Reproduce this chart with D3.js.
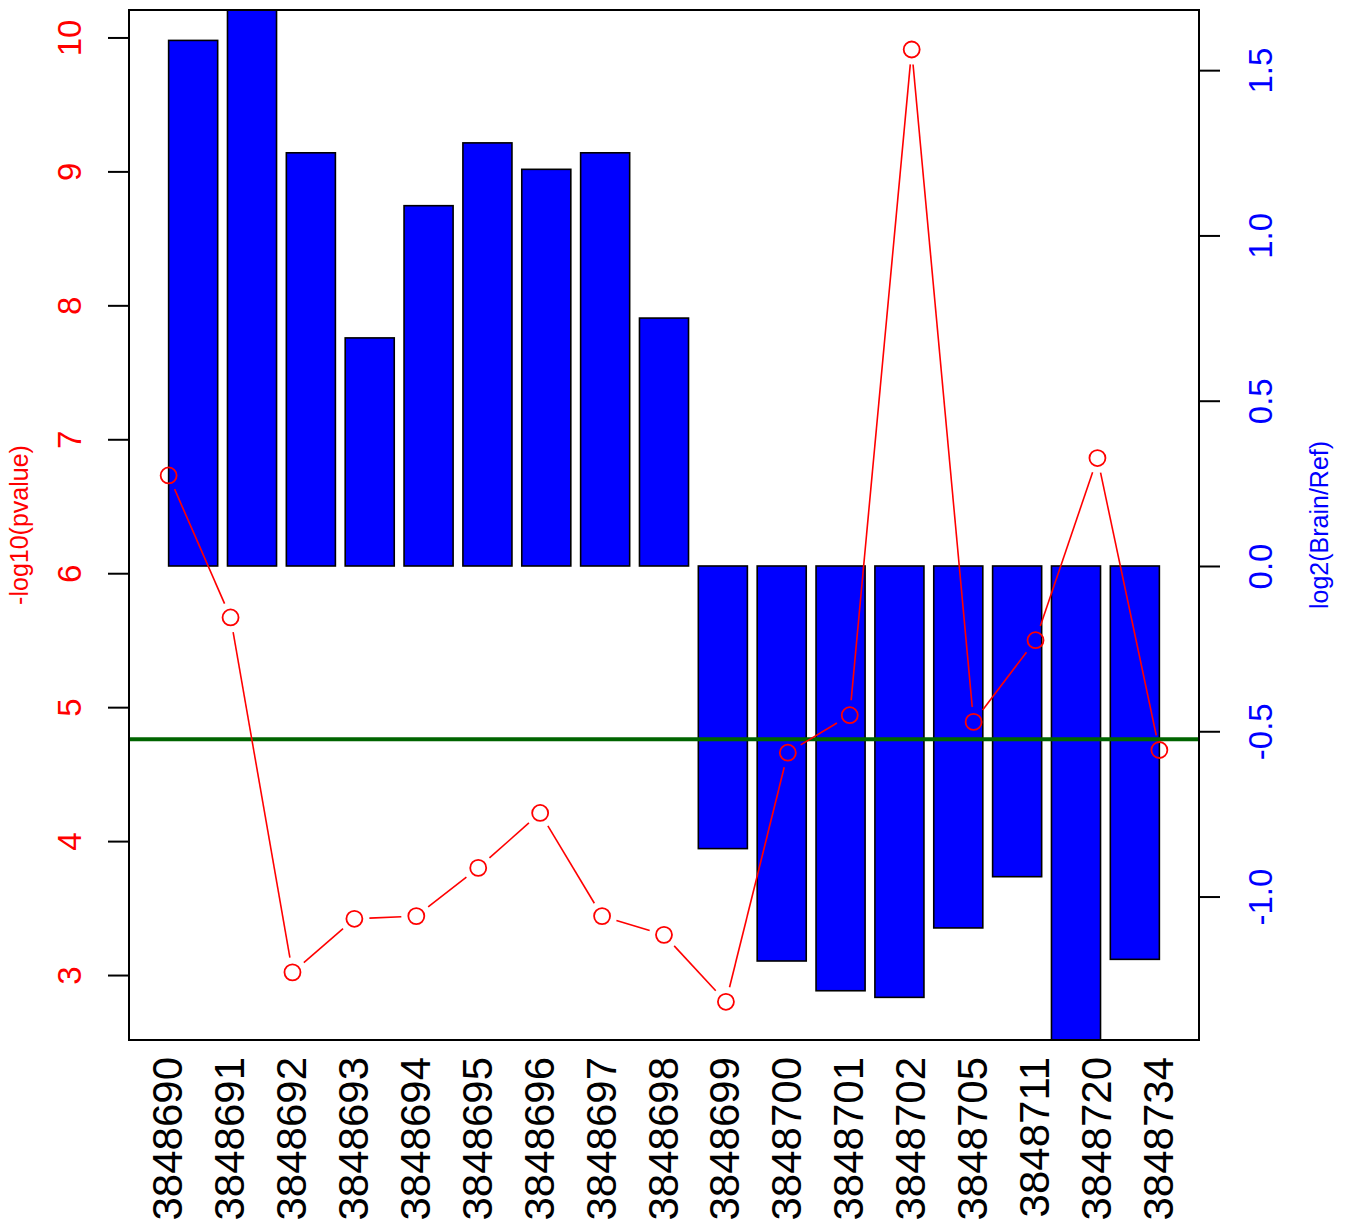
<!DOCTYPE html>
<html>
<head>
<meta charset="utf-8">
<script src="https://cdn.jsdelivr.net/npm/d3@7"></script>
<style>
  html, body { margin: 0; padding: 0; background: #fff; }
  svg { display: block; font-family: "Liberation Sans", Arial, sans-serif; }
</style>
</head>
<body>
<svg id="chart" width="1347" height="1226"></svg>
<script>
// ---- data ----
const probes = ["3848690","3848691","3848692","3848693","3848694","3848695","3848696","3848697","3848698","3848699","3848700","3848701","3848702","3848705","3848711","3848720","3848734"];
const log2Ratio = [1.59, 1.75, 1.25, 0.69, 1.09, 1.28, 1.20, 1.25, 0.75, -0.855, -1.195, -1.285, -1.305, -1.095, -0.94, -1.55, -1.19];
const negLog10P = [6.73, 5.67, 3.02, 3.42, 3.44, 3.80, 4.21, 3.44, 3.30, 2.80, 4.66, 4.94, 9.91, 4.89, 5.50, 6.86, 4.68];
const threshold = [4.76];
const leftTicks = [3, 4, 5, 6, 7, 8, 9, 10];
const rightTicks = [-1.0, -0.5, 0.0, 0.5, 1.0, 1.5];

// ---- layout ----
const L = 129, R = 1199, T = 10, B = 1040;
const svg = d3.select("#chart");

// point x scale (R plot: index with 4% expansion)
const n = probes.length;
const xP = d3.scaleLinear().domain([1 - 0.04 * (n - 1), n + 0.04 * (n - 1)]).range([L, R]);
// barplot x scale (space 0.2, width 1)
const barLeft = i => 0.2 + i * 1.2;
const bxMin = 0.2, bxMax = barLeft(n - 1) + 1;
const bpad = 0.04 * (bxMax - bxMin);
const xB = d3.scaleLinear().domain([bxMin - bpad, bxMax + bpad]).range([L, R]);

const yL = d3.scaleLinear().domain([2.515, 10.205]).range([B, T]);
const yR = d3.scaleLinear().domain([-1.434, 1.682]).range([B, T]);

svg.append("defs").append("clipPath").attr("id", "plotclip")
  .append("rect").attr("x", L).attr("y", T).attr("width", R - L).attr("height", B - T);

const plot = svg.append("g").attr("clip-path", "url(#plotclip)");

// bars
plot.selectAll("rect.bar").data(log2Ratio).join("rect")
  .attr("class", "bar")
  .attr("x", (d, i) => xB(barLeft(i)))
  .attr("width", (d, i) => xB(barLeft(i) + 1) - xB(barLeft(i)))
  .attr("y", d => yR(Math.max(0, d)))
  .attr("height", d => Math.abs(yR(d) - yR(0)))
  .attr("fill", "#0000ff")
  .attr("stroke", "#000")
  .attr("stroke-width", 1.6);

// threshold line
plot.selectAll("line.thr").data(threshold).join("line")
  .attr("class", "thr")
  .attr("x1", L).attr("x2", R)
  .attr("y1", d => yL(d)).attr("y2", d => yL(d))
  .attr("stroke", "#006400").attr("stroke-width", 4);

// line segments with gaps (type = "b")
const pts = negLog10P.map((v, i) => [xP(i + 1), yL(v)]);
const gap = 15;
const segs = [];
for (let i = 0; i < pts.length - 1; i++) {
  const [x1, y1] = pts[i], [x2, y2] = pts[i + 1];
  const dx = x2 - x1, dy = y2 - y1, len = Math.hypot(dx, dy);
  if (len > 2 * gap) {
    const ux = dx / len, uy = dy / len;
    segs.push([x1 + ux * gap, y1 + uy * gap, x2 - ux * gap, y2 - uy * gap]);
  }
}
plot.selectAll("line.seg").data(segs).join("line")
  .attr("class", "seg")
  .attr("x1", d => d[0]).attr("y1", d => d[1])
  .attr("x2", d => d[2]).attr("y2", d => d[3])
  .attr("stroke", "#ff0000").attr("stroke-width", 1.6);

plot.selectAll("circle.pt").data(negLog10P).join("circle")
  .attr("class", "pt")
  .attr("cx", (d, i) => xP(i + 1))
  .attr("cy", d => yL(d))
  .attr("r", 8)
  .attr("fill", "none")
  .attr("stroke", "#ff0000")
  .attr("stroke-width", 1.8);

// box
svg.append("rect").attr("x", L).attr("y", T).attr("width", R - L).attr("height", B - T)
  .attr("fill", "none").attr("stroke", "#000").attr("stroke-width", 2);

// left axis
const gL = svg.append("g").attr("transform", `translate(${L},0)`)
  .call(d3.axisLeft(yL).tickValues(leftTicks).tickFormat(d3.format("d")).tickSize(21).tickSizeOuter(0));
gL.select(".domain").remove();
gL.selectAll(".tick line").attr("stroke", "#000").attr("stroke-width", 2);
gL.selectAll(".tick text")
  .attr("x", null).attr("dy", null)
  .attr("transform", "translate(-48,0) rotate(-90)")
  .attr("text-anchor", "middle")
  .attr("fill", "#ff0000")
  .style("font-size", "33px")
  .style("font-family", "'Liberation Sans', Arial, sans-serif");

// right axis
const gR = svg.append("g").attr("transform", `translate(${R},0)`)
  .call(d3.axisRight(yR).tickValues(rightTicks).tickFormat(d3.format(".1f")).tickSize(21).tickSizeOuter(0));
gR.select(".domain").remove();
gR.selectAll(".tick line").attr("stroke", "#000").attr("stroke-width", 2);
gR.selectAll(".tick text")
  .text(d => d3.format(".1f")(d).replace("\u2212", "-"))
  .attr("x", null).attr("dy", null)
  .attr("transform", "translate(73,0) rotate(-90)")
  .attr("text-anchor", "middle")
  .attr("fill", "#0000ff")
  .style("font-size", "33px")
  .style("font-family", "'Liberation Sans', Arial, sans-serif");

// bottom axis
const gB = svg.append("g").attr("transform", `translate(0,${B})`)
  .call(d3.axisBottom(xP).tickValues(d3.range(1, n + 1)).tickFormat(d => probes[d - 1]).tickSize(0));
gB.select(".domain").remove();
gB.selectAll(".tick text")
  .attr("y", null).attr("dy", null)
  .attr("transform", "translate(13,17) rotate(-90)")
  .attr("text-anchor", "end")
  .attr("fill", "#000")
  .style("font-size", "42px")
  .style("font-family", "'Liberation Sans', Arial, sans-serif");

// axis titles
svg.append("text")
  .attr("transform", `translate(28,${(T + B) / 2}) rotate(-90)`)
  .attr("text-anchor", "middle")
  .attr("fill", "#ff0000")
  .style("font-size", "25px")
  .text("-log10(pvalue)");
svg.append("text")
  .attr("transform", `translate(1328,${(T + B) / 2}) rotate(-90)`)
  .attr("text-anchor", "middle")
  .attr("fill", "#0000ff")
  .style("font-size", "25px")
  .text("log2(Brain/Ref)");
</script>
</body>
</html>
